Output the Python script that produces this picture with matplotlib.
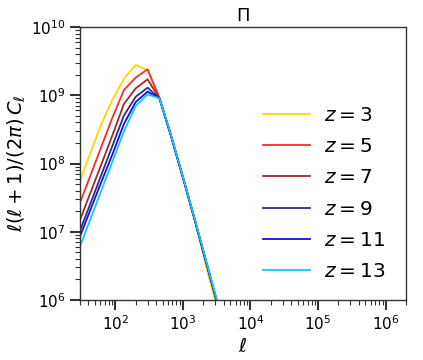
import matplotlib
matplotlib.use('Agg')
import matplotlib.pyplot as plt
import numpy as np

# multipoles
ell = [27, 40, 60, 90, 134, 200, 300, 450, 670, 1000, 1500, 2250, 3400, 5000]

# l(l+1)/(2pi) C_l for each redshift
cl_z3 = [4.2e7, 1.2e8, 3.5e8, 8.5e8, 1.73e9, 2.77e9, 2.34e9, 9.1e8, 2.53e8, 6.3e7, 1.45e7, 2.85e6, 6.2e5, 1.5e5]
cl_z5 = [2.03e7, 5.6e7, 1.61e8, 4.64e8, 1.19e9, 1.81e9, 2.40e9, 9.1e8, 2.53e8, 6.3e7, 1.49e7, 3.3e6, 7.2e5, 1.8e5]
cl_z7 = [1.13e7, 3.13e7, 8.9e7, 2.55e8, 7.45e8, 1.26e9, 1.71e9, 9.0e8, 2.5e8, 6.3e7, 1.49e7, 3.35e6, 7.4e5, 1.8e5]
cl_z9 = [7.9e6, 2.18e7, 6.25e7, 1.79e8, 5.05e8, 9.5e8, 1.29e9, 9.0e8, 2.5e8, 6.2e7, 1.47e7, 3.35e6, 7.4e5, 1.8e5]
cl_z11 = [6.55e6, 1.77e7, 4.94e7, 1.34e8, 3.8e8, 7.96e8, 1.13e9, 9.0e8, 2.5e8, 6.3e7, 1.49e7, 3.4e6, 7.6e5, 1.8e5]
cl_z13 = [4.66e6, 1.29e7, 3.68e7, 1.05e8, 2.96e8, 6.96e8, 1.03e9, 9.0e8, 2.55e8, 6.4e7, 1.52e7, 3.5e6, 7.9e5, 1.9e5]

labels = ['$z=3$', '$z=5$', '$z=7$', '$z=9$', '$z=11$', '$z=13$']
colors = ['gold', '#ff2a2a', '#9e2a2a', '#2e2e8a', '#1010e0', '#10c8ff']
series = [cl_z3, cl_z5, cl_z7, cl_z9, cl_z11, cl_z13]

fig = plt.figure(figsize=(4.23, 3.6), dpi=100)
ax = fig.add_axes([80/423, 60/360, 326/423, 273/360])

for s, c, lab in zip(series, colors, labels):
    ax.plot(ell, s, color=c, lw=1.3, label=lab)

ax.set_xscale('log')
ax.set_yscale('log')
ax.set_xlim(30, 2e6)
ax.set_ylim(1e6, 1e10)

for sp in ax.spines.values():
    sp.set_color('#333333')
    sp.set_linewidth(1.0)

ax.tick_params(which='major', length=7, width=1.5, labelsize=11, color='#333333')
ax.tick_params(which='minor', length=3.5, width=0.8, color='#333333')

ax.set_xlabel(r'$\ell$', fontsize=14, labelpad=3)
ax.set_ylabel(r'$\ell(\ell+1)/(2\pi)\,C_\ell$', fontsize=14, labelpad=2)
ax.set_title(r'$\Pi$', fontsize=13, pad=4)

ax.legend(loc='center right', frameon=False, fontsize=14.5, handlelength=2.3,
          handletextpad=0.7, labelspacing=0.6, bbox_to_anchor=(0.991, 0.39))

fig.savefig('out.png', dpi=100)
